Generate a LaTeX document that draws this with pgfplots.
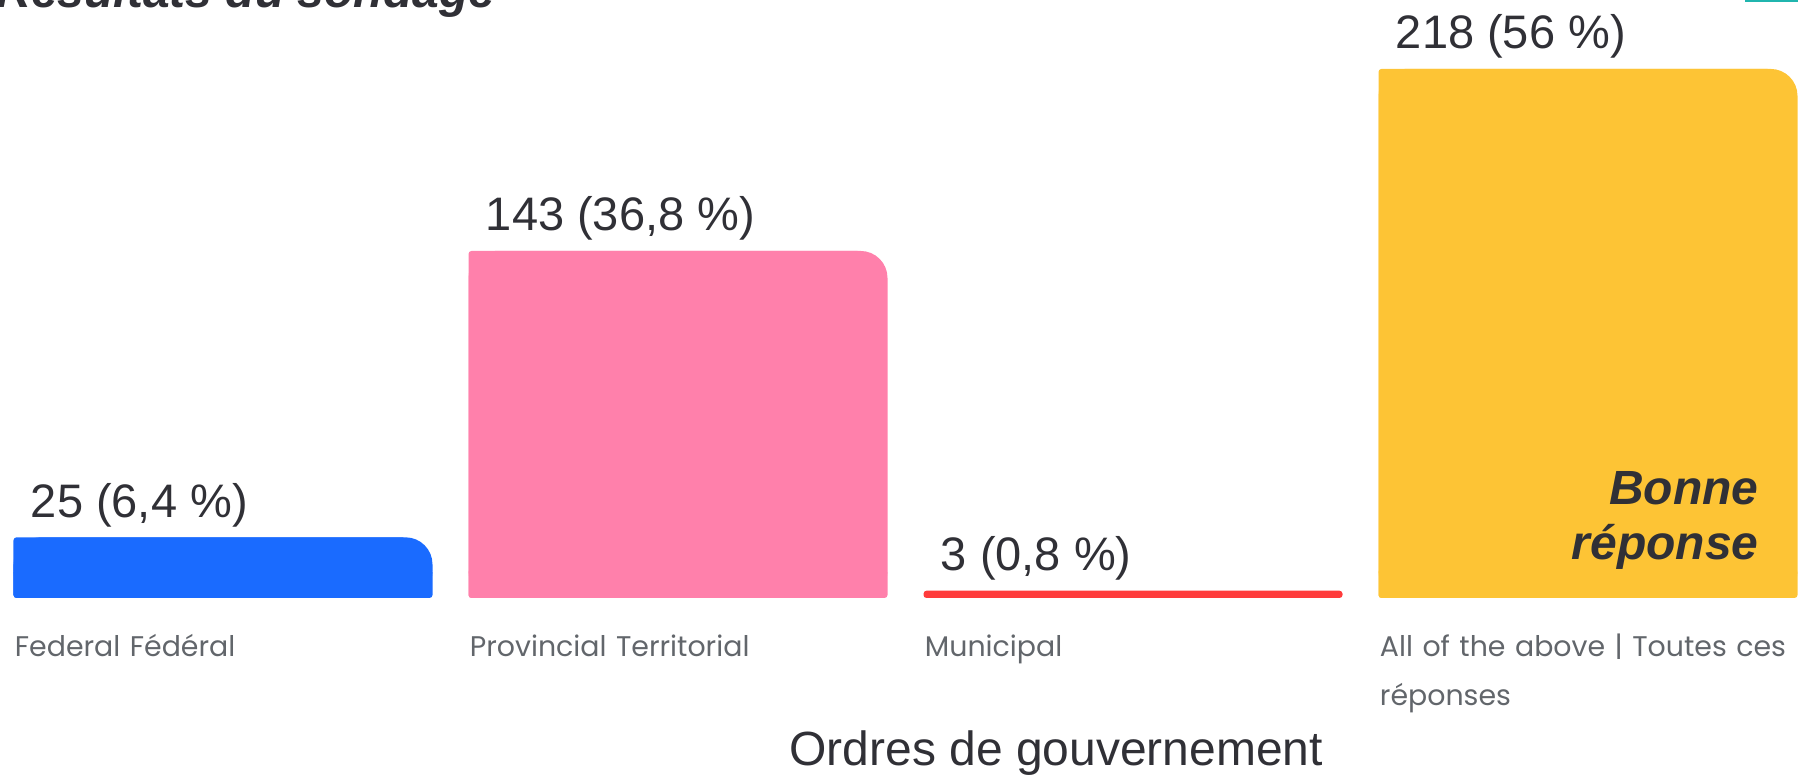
\documentclass[border=0pt]{standalone}
\usepackage{fontspec}
\setmainfont{Liberation Sans}
\newfontfamily\catfont{Poppins}
\usepackage{pgfplots}
\pgfplotsset{compat=1.18}
\definecolor{cblue}{HTML}{1A6BFF}
\definecolor{cpink}{HTML}{FF80AB}
\definecolor{cred}{HTML}{FF3B3B}
\definecolor{cyellow}{HTML}{FDC435}
\definecolor{ctext}{HTML}{303036}
\definecolor{cgray}{HTML}{62666B}
\definecolor{cteal}{HTML}{20B5AE}
\pgfplotsset{
 barA/.style={ybar, bar width=209.5pt, bar shift=0pt, draw=none, fill=#1, rounded corners=13.5pt},
 barB/.style={ybar, bar width=196pt, bar shift=-6.75pt, draw=none, fill=#1, rounded corners=1.5pt},
 barC/.style={ybar, bar width=209.5pt, bar shift=0pt, draw=none, fill=#1, rounded corners=1.5pt},
}
\begin{document}
\begin{tikzpicture}
\useasboundingbox (0,0) rectangle (899pt,387.5pt);
\clip (0,0) rectangle (899pt,387.5pt);
\begin{axis}[
 at={(0pt,88.5pt)}, anchor=south west,
 scale only axis, width=899pt, height=299pt,
 xmin=-0.4901, xmax=3.4615, ymin=0, ymax=246.4,
 axis line style={draw=none}, ytick=\empty,
 xtick={0,1,2,3},
 xticklabels={Federal Fédéral, Provincial Territorial, Municipal, {All of the above | Toutes ces\\réponses}},
 major tick length=0pt,
 xticklabel style={anchor=north west, xshift=-104.25pt, yshift=-18pt, inner sep=0pt, align=left, text width=240pt, font=\catfont\fontsize{14.2}{24.5}\selectfont, text=cgray},
 xlabel={Ordres de gouvernement},
 xlabel style={at={(axis description cs:0.5874,0)}, anchor=base, yshift=-84pt, font=\fontsize{24}{28}\selectfont, text=ctext, inner sep=0pt},
 clip=false,
]
% rounded layer (top-right corner)
\addplot[barA=cblue] coordinates {(0,25)};
\addplot[barA=cpink] coordinates {(1,143)};
\addplot[barA=cyellow] coordinates {(3,218)};
% square left part
\addplot[barB=cblue] coordinates {(0,25)};
\addplot[barB=cpink] coordinates {(1,143)};
\addplot[barB=cyellow] coordinates {(3,218)};
% square bottom strip
\addplot[barC=cblue] coordinates {(0,12)};
\addplot[barC=cpink] coordinates {(1,12)};
\addplot[barC=cred] coordinates {(2,3)};
\addplot[barC=cyellow] coordinates {(3,12)};
% value labels
\addplot[ybar, bar width=209.5pt, bar shift=0pt, draw=none, fill=none,
  point meta=explicit symbolic, nodes near coords,
  every node near coord/.append style={anchor=base west, inner sep=0pt, xshift=-96.25pt, yshift=10pt, font=\fontsize{23.5}{26}\selectfont, text=ctext}]
  coordinates {(0,25) [25 (6,4 \%)] (1,143) [143 (36,8 \%)] (2,3) [3 (0,8 \%)] (3,218) [218 (56 \%)]};
\end{axis}
\node[anchor=base east, font=\bfseries\itshape\fontsize{24}{28}\selectfont, text=ctext, inner sep=0pt] at (879.5pt,135pt) {Bonne};
\node[anchor=base east, font=\bfseries\itshape\fontsize{24}{28}\selectfont, text=ctext, inner sep=0pt] at (879.5pt,107.5pt) {réponse};
\node[anchor=base west, font=\bfseries\itshape\fontsize{24}{28}\selectfont, text=ctext, inner sep=0pt] at (-2pt,383.5pt) {Résultats du sondage};
\fill[cteal] (872.5pt,386.5pt) rectangle (899pt,387.5pt);
\end{tikzpicture}
\end{document}
